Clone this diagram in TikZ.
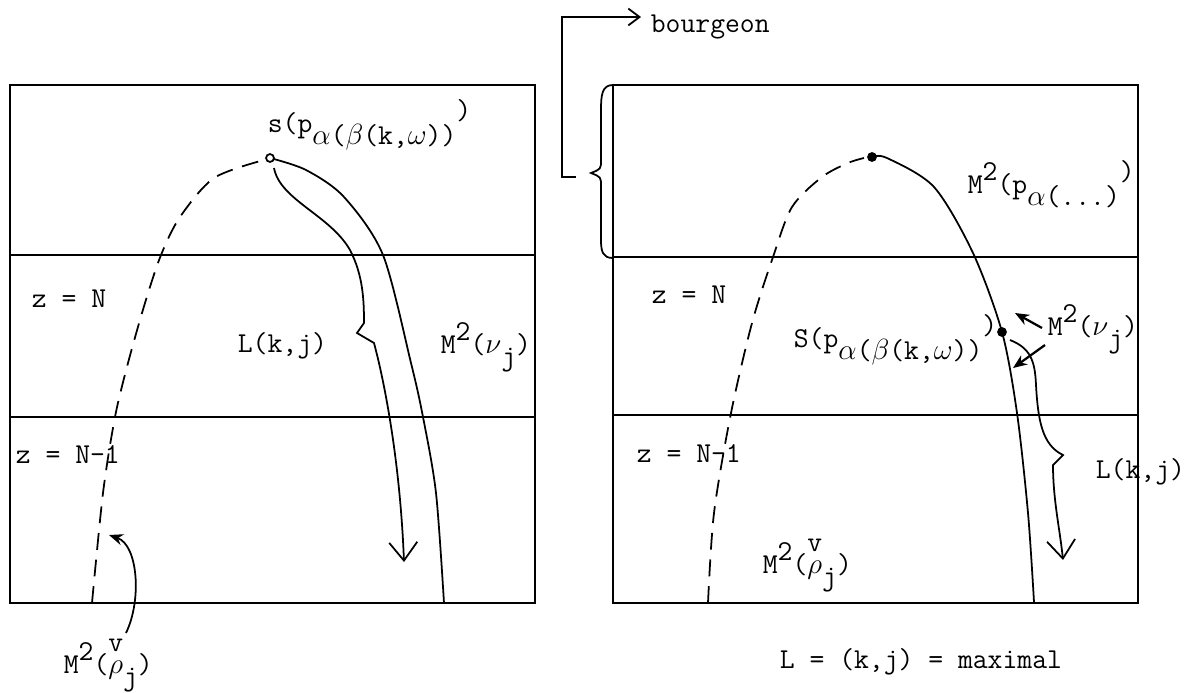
\documentclass[tikz,border=0pt]{standalone}
\usepackage{fontspec}
\usepackage{tikz}
\usetikzlibrary{arrows.meta}
\newcommand{\sbs}[1]{\raisebox{-0.45em}{#1}}
\newcommand{\sps}[1]{\raisebox{0.42em}{#1}}
\newcommand{\rhov}{\rlap{\raisebox{0.75em}{v}}$\rho$}

\begin{document}
\begin{tikzpicture}[x=0.025cm,y=-0.025cm,line width=1.25pt,
  lbl/.style={anchor=base west,inner sep=0pt,font=\ttfamily\fontsize{20.5}{22}\selectfont},
  dashline/.style={dash pattern=on 12pt off 7pt},
  barb/.style={-{Straight Barb[length=13pt,width=20pt]}},
  pointer/.style={-{Stealth[length=10pt,width=8pt]}}]

\useasboundingbox (0,0) rectangle (1197,692);

% left box
\draw (10,85) rectangle (535,603);
\draw (10,255) -- (535,255);
\draw (10,417) -- (535,417);

\coordinate (topL) at (270,158);
\draw[dashline] plot[smooth] coordinates {(92,603) (103,493) (115,417) (128,363) (145,303) (161,255) (180,217) (214,178) (264,160)};
\draw plot[smooth] coordinates {(topL) (306,170) (344,197) (383,255) (411,363) (423,417) (436,493) (444,603)};
\draw[fill=white] (topL) circle (2.8pt);

\draw[barb] (274,168) .. controls (280,200) and (330,215) .. (350,250)
  .. controls (363,275) and (364,300) .. (364,323) -- (357,333) -- (374,343)
  .. controls (384,380) and (400,460) .. (404,562);

\node[lbl] (sL) at (267,132) {s(p\sbs{$\alpha$($\beta$(k,$\omega$))}\sps{)}};
\node[lbl] (zNL) at (31,307) {z = N};
\node[lbl] (zN1L) at (15,463) {z = N-1};
\node[lbl] (LkjL) at (237,352) {L(k,j)};
\node[lbl] (nuL) at (440,353) {M\sps{2}($\nu$\sbs{j})};
\node[lbl] (rhoL) at (63,673) {M\sps{2}(\rhov\sbs{j})};

\coordinate (rhoT) at (126,633);
\draw[pointer] (rhoT) .. controls (142,600) and (138,545) .. (109,535);

% right box
\draw (613,85) rectangle (1138,603);
\draw (613,257) -- (1138,257);
\draw (613,415) -- (1138,415);

\node[lbl] (bourg) at (650,32) {bourgeon};
\draw[-{Straight Barb[length=8pt,width=12pt]}] (576,177) -- (562,177) -- (562,17) -- (641,17);
\draw (613,85) .. controls (602,85) and (601,95) .. (601,110) -- (601,160)
  .. controls (601,169) .. (591,173) .. controls (601,177) .. (601,186)
  -- (601,240) .. controls (601,252) and (603,258) .. (613,258);

\coordinate (topR) at (872,157);
\coordinate (sdot) at (1002,332);
\draw[dashline] plot[smooth] coordinates {(708,603) (714,513) (731,413) (752,323) (773,257) (792,207) (822,177) (848,163) (864,158)};
\draw plot[smooth] coordinates {(topR) (887,158) (934,187) (973,253) (sdot) (1017,413) (1028,513) (1034,602)};
\fill (topR) circle (3.5pt);
\fill (sdot) circle (3.5pt);

\draw[barb] (1010,340) .. controls (1030,348) and (1035,360) .. (1036,385)
  .. controls (1038,420) and (1042,445) .. (1063,455) -- (1053,465)
  .. controls (1053,500) and (1060,530) .. (1063,560);
\draw[pointer,line width=1.6pt] (1042,328) -- (1015,313);
\draw[pointer,line width=1.6pt] (1045,345) -- (1013,368);

\node[lbl] (pR) at (967,193) {M\sps{2}(p\sbs{$\alpha$(...)}\sps{)}};
\node[lbl] (zNR) at (651,303) {z = N};
\node[lbl] (zN1R) at (636,462) {z = N-1};
\node[lbl] (sR) at (793,347) {S(p\sbs{$\alpha$($\beta$(k,$\omega$))}\sps{)}};
\node[lbl] (nuR) at (1047,335) {M\sps{2}($\nu$\sbs{j})};
\node[lbl] (LkjR) at (1095,478) {L(k,j)};
\node[lbl] (rhoR) at (762,573) {M\sps{2}(\rhov\sbs{j})};
\node[lbl] (maxi) at (779,668) {L = (k,j) = maximal};
\end{tikzpicture}
\end{document}
